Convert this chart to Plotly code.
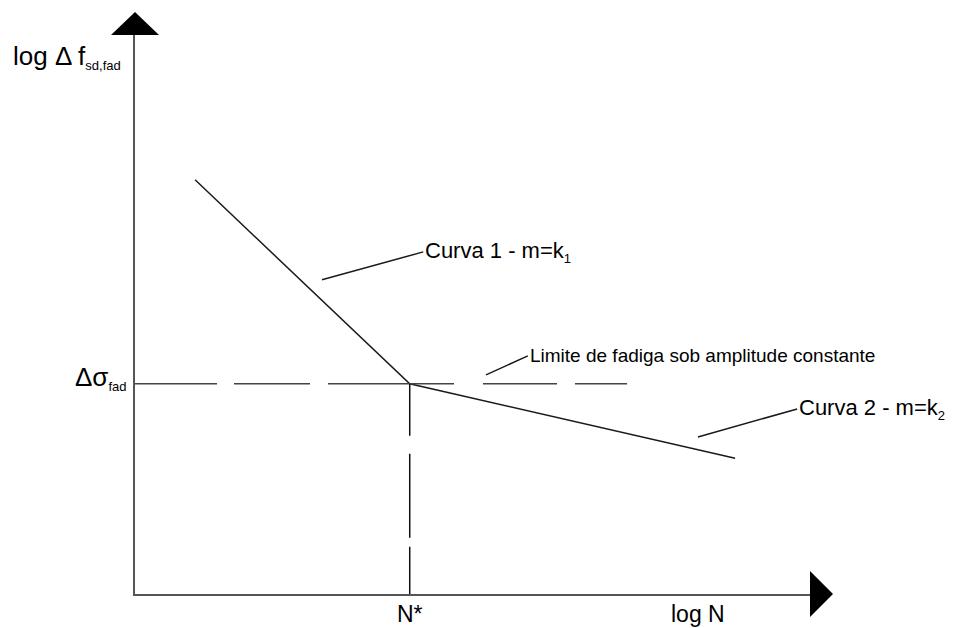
import plotly.graph_objects as go

# S-N style schematic (arbitrary log units)
curve_x = [0.89, 4.07, 8.89]      # log N: start, knee N*, end
curve_y = [7.41, 3.76, 2.43]      # log Δf: start, Δσ_fad, end
limit_end_x = 7.29                # end of dashed fatigue-limit line

knee_x, knee_y = curve_x[1], curve_y[1]

FONT = "Liberation Sans, Arial, sans-serif"
W, H = 955, 628
L, R, T, B = 135, 145, 35, 34

fig = go.Figure()

# main bilinear curve
fig.add_trace(go.Scatter(x=curve_x, y=curve_y, mode="lines",
                         line=dict(color="#1a1a1a", width=1.5),
                         hoverinfo="skip", showlegend=False))
# dashed horizontal limit line
fig.add_trace(go.Scatter(x=[0, limit_end_x], y=[knee_y, knee_y], mode="lines",
                         line=dict(color="#444", width=1.5,
                                   dash="82px,17px,76px,18px,126px,29px,74px,18px,60px,40px"),
                         hoverinfo="skip", showlegend=False, cliponaxis=False))
# dashed vertical line at N*
fig.add_trace(go.Scatter(x=[knee_x, knee_x], y=[knee_y, 0], mode="lines",
                         line=dict(color="#111", width=1.5, dash="52px,18px,84px,9px"),
                         hoverinfo="skip", showlegend=False, cliponaxis=False))

axis_common = dict(range=[0, 10], showgrid=False, zeroline=False,
                   showticklabels=False, ticks="", showline=True,
                   linecolor="#555", linewidth=2, fixedrange=True)

shapes = [
    # y-axis arrowhead
    dict(type="path", xref="paper", yref="paper", xsizemode="pixel", ysizemode="pixel",
         xanchor=0, yanchor=1, path="M -24,0 L 24,0 L 0,23 Z",
         fillcolor="black", line=dict(width=0)),
    # x-axis arrowhead
    dict(type="path", xref="paper", yref="paper", xsizemode="pixel", ysizemode="pixel",
         xanchor=1, yanchor=0, path="M 0,-23 L 0,23 L 23,0 Z",
         fillcolor="black", line=dict(width=0)),
]

huge = dict(family=FONT, size=26, color="black")
big = dict(family=FONT, size=23, color="black")
mid = dict(family=FONT, size=22, color="black")
small = dict(family=FONT, size=19, color="black")


def sub(t, px):
    return f"<sub><span style='font-size:{px}px'>{t}</span></sub>"


annotations = [
    dict(text="log Δ f" + sub("sd,fad", 13), xref="paper", yref="paper",
         x=0, y=1, xshift=-124, yshift=-22, xanchor="left", yanchor="middle",
         showarrow=False, font=huge),
    dict(text="Δσ" + sub("fad", 13), xref="paper", yref="y", x=0, y=knee_y,
         xshift=-6, yshift=6, xanchor="right", yanchor="middle",
         showarrow=False, font=huge),
    dict(text="N*", xref="x", yref="paper", x=knee_x, y=0, yshift=-20,
         xanchor="center", yanchor="middle", showarrow=False, font=big),
    dict(text="log N", xref="paper", yref="paper", x=1, y=0, xshift=-112, yshift=-20,
         xanchor="center", yanchor="middle", showarrow=False, font=big),
    # leader-line labels
    dict(text="Curva 1 - m=k" + sub("1", 13), x=2.77, y=5.62, ax=4.27, ay=6.12,
         axref="x", ayref="y", xanchor="left", yanchor="middle",
         showarrow=True, arrowhead=0, arrowwidth=1.5, arrowcolor="#1a1a1a",
         standoff=0, startstandoff=0, font=mid),
    dict(text="Limite de fadiga sob amplitude constante", x=5.20, y=3.92, ax=5.82, ay=4.26,
         axref="x", ayref="y", xanchor="left", yanchor="middle",
         showarrow=True, arrowhead=0, arrowwidth=1.5, arrowcolor="#1a1a1a",
         standoff=0, startstandoff=0, font=small),
    dict(text="Curva 2 - m=k" + sub("2", 13), x=8.34, y=2.81, ax=9.81, ay=3.31,
         axref="x", ayref="y", xanchor="left", yanchor="middle",
         showarrow=True, arrowhead=0, arrowwidth=1.5, arrowcolor="#1a1a1a",
         standoff=0, startstandoff=0, font=mid),
]

fig.update_layout(
    width=W, height=H,
    margin=dict(l=L, r=R, t=T, b=B),
    paper_bgcolor="white", plot_bgcolor="white",
    xaxis=axis_common, yaxis=axis_common,
    shapes=shapes, annotations=annotations,
    showlegend=False,
)

fig.write_html("out.html",
               config={"displayModeBar": False},
               post_script="document.body.style.margin='0';document.body.style.overflow='hidden';")
